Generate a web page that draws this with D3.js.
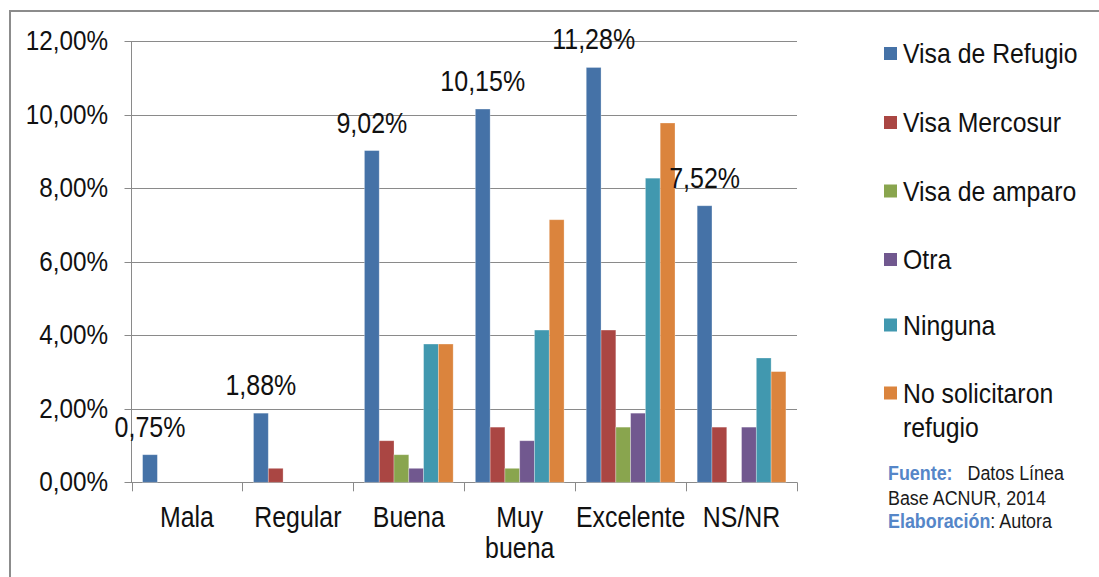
<!DOCTYPE html>
<html>
<head>
<meta charset="utf-8">
<script src="https://cdn.jsdelivr.net/npm/d3@7"></script>
<style>
  body { margin: 0; background: #fff; }
  svg text { font-family: "Liberation Sans", Arial, sans-serif; fill: #111; }
</style>
</head>
<body>
<div class="chart"></div>
<script>
// Grouped bar chart: estado de salud por tipo de visa (porcentajes)

var categories = ["Mala", "Regular", "Buena", "Muy buena", "Excelente", "NS/NR"];
var seriesNames = ["Visa de Refugio", "Visa Mercosur", "Visa de amparo", "Otra", "Ninguna", "No solicitaron refugio"];

var visaRefugio   = [0.75, 1.88, 9.02, 10.15, 11.28, 7.52];
var visaMercosur  = [0, 0.38, 1.13, 1.50, 4.14, 1.50];
var visaAmparo    = [0, 0, 0.75, 0.38, 1.50, 0];
var otra          = [0, 0, 0.38, 1.13, 1.88, 1.50];
var ninguna       = [0, 0, 3.76, 4.14, 8.27, 3.38];
var noSolicitaron = [0, 0, 3.76, 7.14, 9.77, 3.01];

var yTicks = [0, 2, 4, 6, 8, 10, 12];
var colors = ["#4572A7", "#AA4643", "#89A54E", "#71588F", "#4198AF", "#DB843D"];

var seriesValues = [visaRefugio, visaMercosur, visaAmparo, otra, ninguna, noSolicitaron];

// svg size
var svgWidth = 1099;
var svgHeight = 577;
var stretch = 1.15; // text in the picture is a bit taller than wide

var plot = { left: 131.5, right: 797, top: 41, bottom: 482.3 };

var svg = d3.select(".chart")
    .append("svg")
    .attr("width", svgWidth)
    .attr("height", svgHeight);

// outer frame (only top and left edges visible)
svg.append("rect")
    .attr("x", 10).attr("y", 11)
    .attr("width", 1200).attr("height", 700)
    .attr("fill", "none")
    .attr("stroke", "#8c8c8c")
    .attr("stroke-width", 2);

// helper to put a vertically stretched text
function addText(g, x, y, str, size, anchor) {
    return g.append("text")
        .attr("transform", "translate(" + x + "," + y + ") scale(1," + stretch + ")")
        .attr("text-anchor", anchor || "start")
        .style("font-size", size + "px")
        .text(str);
}

// scales
var xScale = d3.scaleBand()
    .domain(categories)
    .range([plot.left, plot.right]);

var xSeries = d3.scaleBand()
    .domain(seriesNames)
    .range([0, xScale.bandwidth()])
    .paddingOuter(0.75);

var yScale = d3.scaleLinear()
    .domain([0, 12])
    .range([plot.bottom, plot.top]);

var locale = d3.formatLocale({ decimal: ",", thousands: ".", grouping: [3], currency: ["", ""] });
var fmt = locale.format(".2f");

// gridlines
svg.append("g")
    .selectAll("line")
    .data(yTicks)
    .enter().append("line")
        .attr("x1", plot.left - 7)
        .attr("x2", plot.right)
        .attr("y1", function(d) { return Math.round(yScale(d)) + 0.5; })
        .attr("y2", function(d) { return Math.round(yScale(d)) + 0.5; })
        .attr("stroke", "#8a8a8a")
        .attr("stroke-width", 1);

// y axis line
svg.append("line")
    .attr("x1", plot.left).attr("x2", plot.left)
    .attr("y1", plot.top).attr("y2", plot.bottom)
    .attr("stroke", "#8a8a8a");

// y tick labels
var yLabels = svg.append("g");
yTicks.forEach(function(t) {
    addText(yLabels, 108, yScale(t) + 9, fmt(t) + "%", 24.3, "end");
});

// x tick marks at category boundaries
var bounds = categories.map(function(c) { return xScale(c); }).concat([plot.right]);
svg.append("g")
    .selectAll("line")
    .data(bounds)
    .enter().append("line")
        .attr("x1", function(d) { return Math.round(d) + 0.5; })
        .attr("x2", function(d) { return Math.round(d) + 0.5; })
        .attr("y1", plot.bottom)
        .attr("y2", plot.bottom + 9)
        .attr("stroke", "#8a8a8a");

// x labels (wrap at spaces)
var xLabels = svg.append("g");
categories.forEach(function(c) {
    var cx = xScale(c) + xScale.bandwidth() / 2;
    c.split(" ").forEach(function(word, i) {
        addText(xLabels, cx, 527 + i * 31, word, 24.9, "middle");
    });
});

// bars
var barData = [];
seriesValues.forEach(function(vals, s) {
    vals.forEach(function(v, i) {
        barData.push({ cat: categories[i], series: seriesNames[s], value: v, color: colors[s], s: s });
    });
});

svg.append("g")
    .selectAll("rect")
    .data(barData.filter(function(d) { return d.value > 0; }))
    .enter().append("rect")
        .attr("x", function(d) { return xScale(d.cat) + xSeries(d.series); })
        .attr("y", function(d) { return yScale(d.value); })
        .attr("width", xSeries.bandwidth())
        .attr("height", function(d) { return plot.bottom - yScale(d.value); })
        .attr("fill", function(d) { return d.color; })
        .attr("stroke", "rgba(255,255,255,0.35)")
        .attr("stroke-width", 0.8);

// data labels on the first series only
var dataLabels = svg.append("g");
visaRefugio.forEach(function(v, i) {
    var cx = xScale(categories[i]) + xSeries(seriesNames[0]) + xSeries.bandwidth() / 2;
    addText(dataLabels, cx, yScale(v) - 18, fmt(v) + "%", 25, "middle");
});

// legend
var legend = svg.append("g");
var legendY = [53.5, 122.5, 191, 259.5, 325, 393];
seriesNames.forEach(function(name, i) {
    legend.append("rect")
        .attr("x", 884)
        .attr("y", legendY[i] - 6.5)
        .attr("width", 13)
        .attr("height", 13)
        .attr("fill", colors[i]);
    var words = name === "No solicitaron refugio" ? ["No solicitaron", "refugio"] : [name];
    words.forEach(function(w, j) {
        addText(legend, 903, legendY[i] + 9.5 + j * 34, w, 24.8, "start");
    });
});

// source note
var note = svg.append("g").style("font-size", "17.9px");
function noteLine(y, parts) {
    var t = note.append("text")
        .attr("transform", "translate(888," + y + ") scale(1," + stretch + ")");
    parts.forEach(function(p) {
        t.append("tspan")
            .style("fill", p.blue ? "#5586C8" : "#1a1a1a")
            .style("font-weight", p.blue ? "bold" : "normal")
            .attr("xml:space", "preserve")
            .text(p.text);
    });
}
noteLine(480, [{ text: "Fuente:", blue: true }, { text: "\u00a0\u00a0 Datos L\u00ednea" }]);
noteLine(504.5, [{ text: "Base ACNUR, 2014" }]);
noteLine(528, [{ text: "Elaboraci\u00f3n", blue: true }, { text: ": Autora" }]);
</script>
</body>
</html>
